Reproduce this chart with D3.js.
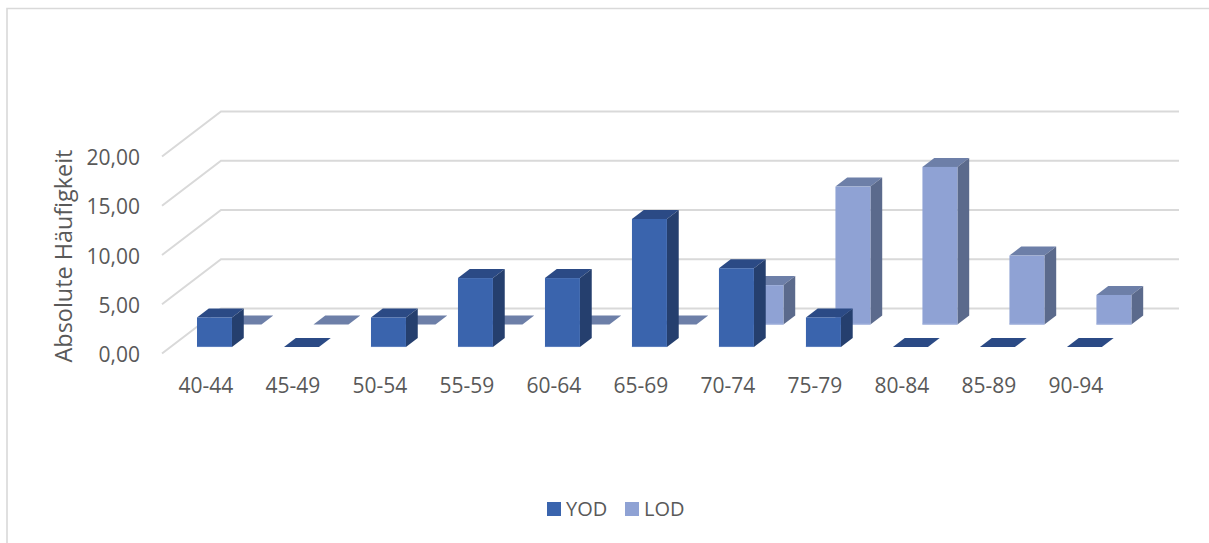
<!DOCTYPE html>
<html lang="de">
<head>
<meta charset="utf-8">
<title>Absolute Häufigkeit nach Altersgruppe</title>
<script src="https://cdn.jsdelivr.net/npm/d3@7/dist/d3.min.js"></script>
<style>
  html, body { margin: 0; padding: 0; background: #fff; }
  svg { display: block; }
  text { font-family: "Open Sans", sans-serif; fill: #595959; }
</style>
</head>
<body>
<svg id="chart" width="1209" height="543"></svg>
<script>
// Chart data
const categories = ["40-44","45-49","50-54","55-59","60-64","65-69","70-74","75-79","80-84","85-89","90-94"];
const yod = [3,0,3,7,7,13,8,3,0,0,0];
const lod = [0,0,0,0,0,0,4,14,16,7,3];
const yTicks = [0,5,10,15,20];
const seriesNames = ["YOD","LOD"];

const svg = d3.select("#chart");

// Chart frame: thin rule along the top and left
svg.append("path").attr("d","M7,543V8.5H1209").attr("fill","none").attr("stroke","#d9d9d9").attr("stroke-width",1.6);

// Oblique projection: a unit of depth moves a point right and up
const project = (px, py, d) => [px + 59 * d, py - 45 * d];

const y = d3.scaleLinear().domain([0,20]).range([353.5, 156.5]);
const x = d3.scaleBand().domain(categories).range([188.5, 1093.4]).paddingInner(0.598).paddingOuter(0);

// Side wall and back wall gridlines
const grid = svg.append("g").attr("fill","none").attr("stroke","#d9d9d9").attr("stroke-width",2);
yTicks.forEach(t => {
  const a = project(162, y(t), 0), b = project(162, y(t), 1);
  grid.append("path").attr("d", `M${a}L${b}H1179`);
});

// Tick labels
svg.append("g").selectAll("text").data(yTicks).join("text")
  .attr("x",140).attr("y",t => y(t)+8.5)
  .attr("text-anchor","end").attr("font-size",21)
  .text(t => d3.format(".2f")(t).replace(".",","));

svg.append("g").selectAll("text").data(categories).join("text")
  .attr("x",c => x(c)+x.bandwidth()/2).attr("y",393)
  .attr("text-anchor","middle").attr("font-size",21)
  .text(c => c);

svg.append("text")
  .attr("transform","translate(71.5,256) rotate(-90)")
  .attr("text-anchor","middle").attr("font-size",23.4)
  .text("Absolute Häufigkeit");

// Each series occupies its own row in depth; the back row is painted first
const rows = [
  {values: lod, front:"#8fa2d4", edge:"#a3b3dc", top:"#6d7fa8", side:"#5b6a8c", d0:0.644},
  {values: yod, front:"#3a64ad", edge:"#5c7fbd", top:"#2b4a85", side:"#253f6e", d0:0.144}
];
const barDepth = 0.2;
const [dx, dyNeg] = project(0, 0, barDepth);
const dy = -dyNeg;

rows.forEach(row => {
  const g = svg.append("g");
  categories.forEach((c,i) => {
    const v = row.values[i];
    const [x0, y0] = project(x(c), y(0), row.d0);
    const w = x.bandwidth();
    const h = y(0) - y(v);
    const top = y0 - h;
    g.append("path").attr("fill",row.top)
      .attr("d",`M${x0},${top}L${x0+dx},${top-dy}H${x0+w+dx}L${x0+w},${top}Z`);
    if (v > 0) {
      g.append("path").attr("fill",row.side)
        .attr("d",`M${x0+w},${top}L${x0+w+dx},${top-dy}V${y0-dy}L${x0+w},${y0}Z`);
      g.append("rect").attr("x",x0).attr("y",top).attr("width",w).attr("height",h).attr("fill",row.front);
      g.append("path").attr("fill","none").attr("stroke",row.edge).attr("stroke-width",1)
        .attr("d",`M${x0},${y0-0.5}H${x0+w}`);
    }
  });
});

// Legend
const legend = svg.append("g");
const colors = d3.scaleOrdinal().domain(seriesNames).range(["#3a64ad","#8fa2d4"]);
const legendX = d3.scaleOrdinal().domain(seriesNames).range([547,625]);
seriesNames.forEach(n => {
  legend.append("rect").attr("x",legendX(n)).attr("y",502).attr("width",14).attr("height",14).attr("fill",colors(n));
  legend.append("text").attr("x",legendX(n)+19).attr("y",516).attr("font-size",20).text(n);
});
</script>
</body>
</html>
